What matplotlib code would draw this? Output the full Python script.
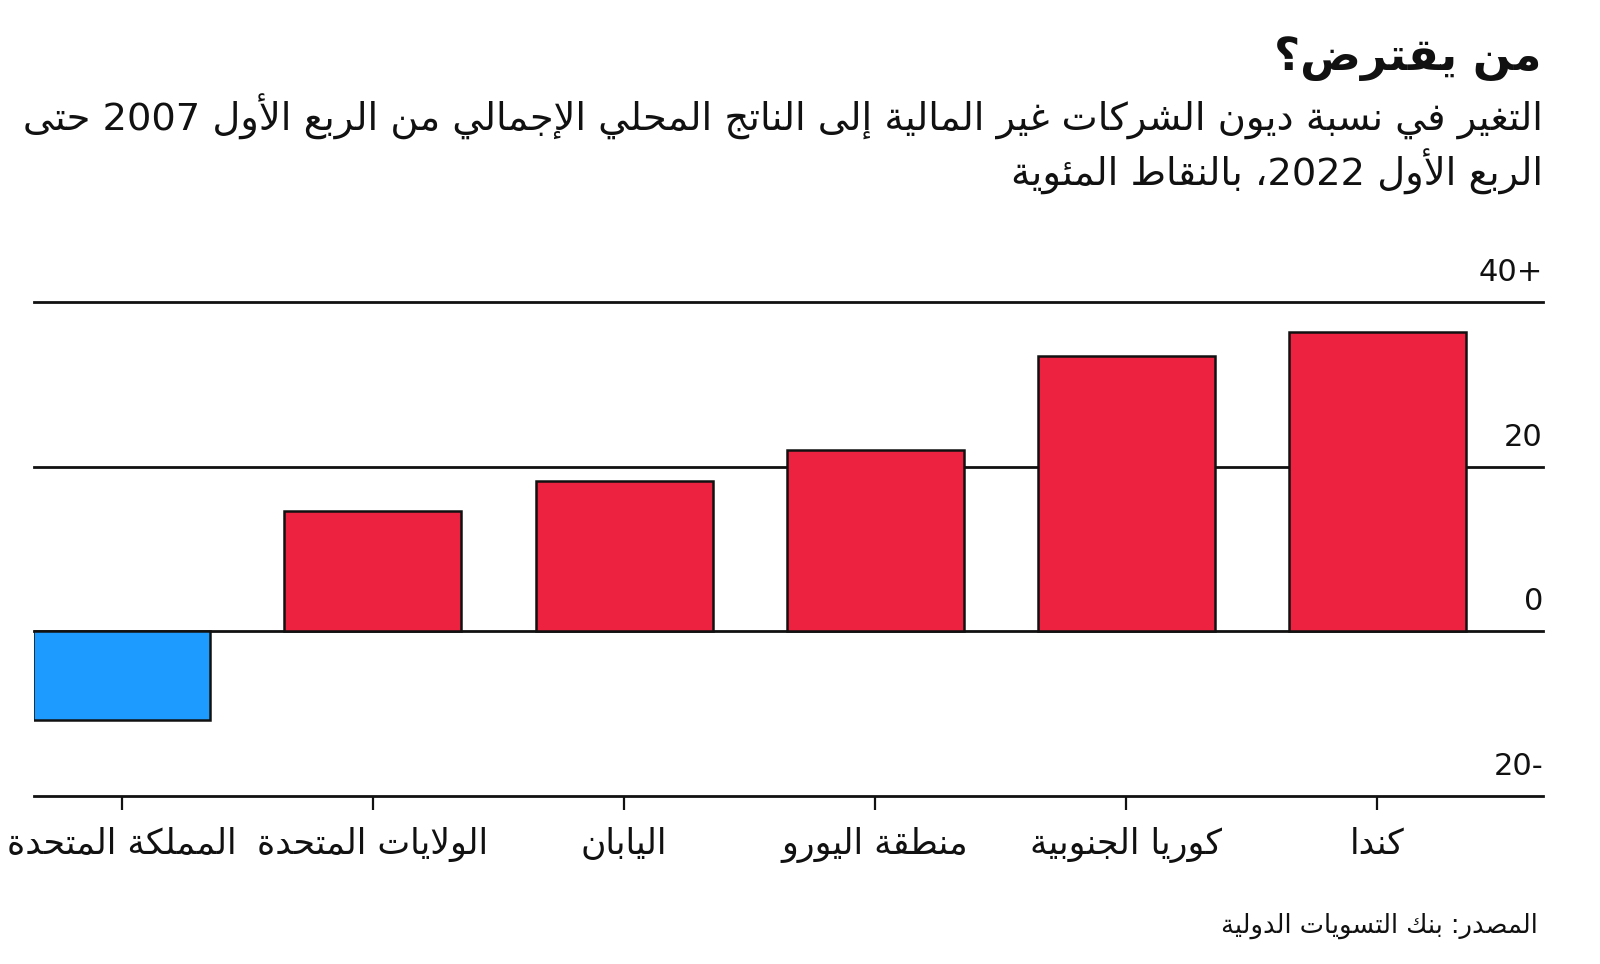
import re
import matplotlib
matplotlib.use("Agg")
import matplotlib.pyplot as plt
import matplotlib.transforms as mtransforms

plt.rcParams['font.family'] = ['DejaVu Sans']

# ------------------------------------------------------------
# datos
# ------------------------------------------------------------
paises = ["المملكة المتحدة", "الولايات المتحدة", "اليابان",
          "منطقة اليورو", "كوريا الجنوبية", "كندا"]
cambio = [-10.8, 14.6, 18.2, 22.0, 33.4, 36.4]
colores = ["#1E9BFF", "#ED2140", "#ED2140", "#ED2140", "#ED2140", "#ED2140"]
y_ticks = [40, 20, 0, -20]
y_labels = ["40+", "20", "0", "20-"]

titulo = "من يقترض؟"
subtitulo1 = "التغير في نسبة ديون الشركات غير المالية إلى الناتج المحلي الإجمالي من الربع الأول 2007 حتى"
subtitulo2 = "الربع الأول 2022، بالنقاط المئوية"
fuente = "المصدر: بنك التسويات الدولية"

# ------------------------------------------------------------
# forma árabe (matplotlib no une letras ni invierte el texto)
# ------------------------------------------------------------
_LETRAS = "آأؤإئابةتثجحخدذرزسشصضطظعغفقكلمنهوىي"
_SOLO_DER = "آأؤإاةدذرزوى"
FORMS = {}
_code = 0xFE81
for _c in _LETRAS:
    _n = 2 if _c in _SOLO_DER else 4
    FORMS[_c] = (_code, _n)
    _code += _n
DUAL = {c for c, (b, n) in FORMS.items() if n == 4}
LAMALEF = {'آ': 0xFEF5, 'أ': 0xFEF7, 'إ': 0xFEF9, 'ا': 0xFEFB}


def _shape(s):
    out = []
    i = 0
    while i < len(s):
        c = s[i]
        p = s[i - 1] if i else ''
        jp = p in DUAL and c in FORMS
        if c == 'ل' and i + 1 < len(s) and s[i + 1] in LAMALEF:
            out.append(chr(LAMALEF[s[i + 1]] + (1 if jp else 0)))
            i += 2
            continue
        if c not in FORMS:
            out.append(c)
            i += 1
            continue
        nx = s[i + 1] if i + 1 < len(s) else ''
        jn = c in DUAL and nx in FORMS
        base, _ = FORMS[c]
        k = 3 if (jp and jn) else 1 if jp else 2 if jn else 0
        out.append(chr(base + k))
        i += 1
    return ''.join(out)


def ar(s):
    t = _shape(s)
    runs = re.findall(r'\d+|\D+', t)
    return ''.join(r if r[0].isdigit() else r[::-1] for r in reversed(runs))


# ------------------------------------------------------------
# figura
# ------------------------------------------------------------
fig = plt.figure(figsize=(16, 9.64), dpi=100)
ax = fig.add_axes([34 / 1600, 1 - 796 / 964, (1543 - 34) / 1600, (796 - 302) / 964])

x = list(range(len(paises)))
ax.bar(x, cambio, width=0.705, color=colores, edgecolor="#111111",
       linewidth=1.8, zorder=3)

for v in y_ticks:
    ax.axhline(v, color="#111111", linewidth=2.0, zorder=2, clip_on=False)

ax.set_xlim(-0.35, 5.66)
ax.set_ylim(-20, 40)
for s in ax.spines.values():
    s.set_visible(False)

ax.set_yticks([])
ax.set_xticks(x)
ax.set_xticklabels([ar(p) for p in paises], fontsize=25, color="#111111")
ax.tick_params(axis="x", direction="out", length=10, width=1.6,
               color="#111111", pad=12)

trans = mtransforms.offset_copy(ax.get_yaxis_transform(), fig=fig, x=0, y=15, units="points")
for v, lab in zip(y_ticks, y_labels):
    ax.text(1.0, v, lab, transform=trans, ha="right", va="baseline",
            fontsize=22, color="#111111")

fig.text(1541 / 1600, 1 - 70 / 964, ar(titulo), ha="right", va="baseline",
         fontsize=32.5, fontweight="bold", color="#111111")
fig.text(1543 / 1600, 1 - 131 / 964, ar(subtitulo1), ha="right", va="baseline",
         fontsize=27.6, color="#111111")
fig.text(1543 / 1600, 1 - 186 / 964, ar(subtitulo2), ha="right", va="baseline",
         fontsize=27.6, color="#111111")
fig.text(1538 / 1600, 1 - 933 / 964, ar(fuente), ha="right", va="baseline",
         fontsize=18.5, color="#111111")

fig.savefig("out.png", dpi=100, facecolor="white")
